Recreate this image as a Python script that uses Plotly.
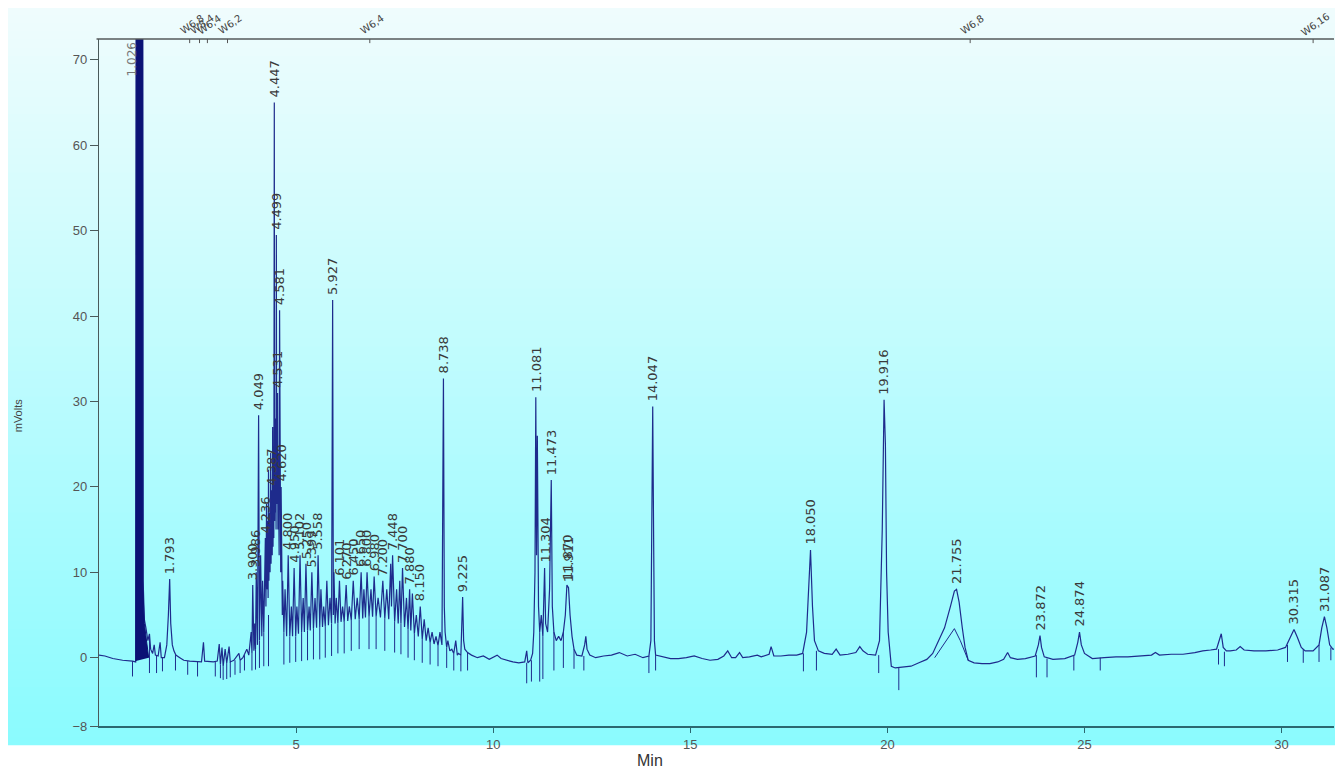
import plotly.graph_objects as go

# ---------------- data ----------------
# detector trace (minutes, mVolts), early part
trace_early_t = [0.00, 0.15, 0.35, 0.60, 0.85, 0.93, 0.96, 1.10, 1.12, 1.15, 1.19, 1.24, 1.28, 1.31, 1.36, 1.40, 1.43, 1.50,
                 1.55, 1.58, 1.66, 1.72, 1.76, 1.793, 1.82, 1.86, 1.90, 1.95, 2.05, 2.15, 2.30, 2.60, 2.65, 2.68, 2.90,
                 3.00, 3.05, 3.08, 3.12, 3.15, 3.20, 3.24, 3.30, 3.33, 3.42, 3.55, 3.58, 3.65, 3.75, 3.80]
trace_early_mv = [0.3, 0.2, -0.1, -0.3, -0.4, -0.5, 150, 150, 9, 4.5, 3.5, 2.0, 2.8, 1.0, 0.5, 1.5, 0.3, 0.2,
                  1.8, 0.0, 0.0, 1.5, 5, 9.2, 4, 1.5, 0.8, 0.3, 0, -0.3, -0.4, -0.5, 1.8, -0.4, -0.5,
                  -0.4, 1.6, -0.8, 1.2, -1.0, 1.0, -0.6, 1.3, -0.5, -0.3, 0.5, -0.3, 0.0, 1.0, 0.3]

# dense region 3.8 - 9.4 min
trace_dense_t = [3.86, 3.88, 3.90, 3.93, 3.95, 3.97, 3.99, 4.02, 4.049, 4.07, 4.10, 4.13, 4.15, 4.18,
                 4.22, 4.235, 4.25, 4.26, 4.28, 4.29, 4.30, 4.31, 4.33, 4.34, 4.355, 4.365, 4.387, 4.395,
                 4.405, 4.415, 4.42, 4.435, 4.447, 4.455, 4.465, 4.475, 4.485, 4.492, 4.499, 4.508, 4.515,
                 4.522, 4.53, 4.538, 4.545, 4.552, 4.56, 4.57, 4.581, 4.59, 4.60, 4.61, 4.62, 4.63, 4.64,
                 4.65, 4.66, 4.69, 4.72, 4.76, 4.80, 4.84, 4.88, 4.91, 4.95, 4.99,
                 5.02, 5.06, 5.10, 5.14, 5.18, 5.21, 5.25, 5.29, 5.33, 5.36, 5.40, 5.44, 5.48, 5.52, 5.558, 5.60,
                 5.63, 5.67, 5.70, 5.74, 5.78, 5.82, 5.86, 5.90, 5.927, 5.945, 5.96, 5.99, 6.02, 6.06, 6.10, 6.14,
                 6.18, 6.22, 6.27, 6.31, 6.35, 6.40, 6.45, 6.50, 6.55, 6.60, 6.65, 6.69, 6.72, 6.76, 6.80, 6.85,
                 6.90, 6.94, 6.98, 7.03, 7.08, 7.14, 7.20, 7.25, 7.30, 7.35, 7.40, 7.42, 7.448, 7.50, 7.55, 7.59,
                 7.63, 7.66, 7.70, 7.75, 7.80, 7.84, 7.88, 7.91, 7.95, 8.00, 8.05, 8.10, 8.15, 8.20, 8.25, 8.30,
                 8.35, 8.40, 8.45, 8.50, 8.55, 8.60, 8.65, 8.70, 8.738, 8.76, 8.78, 8.82, 8.85, 8.90, 8.95, 9.00,
                 9.05, 9.09, 9.12, 9.18, 9.225, 9.25, 9.28, 9.35]
trace_dense_mv = [3, 0.5, 8.5, 0.8, 4, 1.0, 10, 1.5, 28.4, 2, 12, 2.5, 9, 3,
                  14, 6, 18, 8, 16, 7, 22, 9, 17, 10, 24, 11, 19.6, 12,
                  27, 13, 21, 14, 65, 16, 28, 17, 22, 15, 49.5, 18, 27,
                  16, 31, 15, 24, 14, 20, 12, 40.7, 14, 22, 10, 20, 8, 14,
                  5, 9, 3, 8, 2.5, 12, 2.5, 6, 2.5, 10.5, 2.5,
                  6, 2.8, 12, 3, 7, 3, 11, 3.2, 6, 3.2, 10, 3.4, 7, 3.5, 12, 3.6,
                  8, 3.6, 6, 3.7, 9, 3.8, 7, 4, 41.9, 5, 10, 4, 7, 4, 9, 4.2,
                  6, 4.2, 8.5, 4.3, 6, 4.4, 9, 4.5, 7, 4.5, 10, 4.6, 8, 4.7, 10, 4.8,
                  8, 4.8, 9.5, 4.8, 7, 4.7, 9, 4.6, 8, 4.5, 11, 6, 12, 4.2, 8, 4.0,
                  9, 4, 10.5, 3.6, 7, 3.3, 8, 3.2, 7.5, 2.8, 5, 2.5, 6, 2.2, 4.5, 2.0,
                  3.5, 1.8, 3, 1.6, 2.5, 1.4, 3, 1.5, 32.7, 6, 3, 1.2, 2, 0.8, 1, 0.5,
                  2, 0.3, 0.5, 0.3, 7.1, 2, 1.0, 0.6]

# 9.4 - 31.35 min
trace_late_t = [9.45, 9.60, 9.75, 9.90, 10.0, 10.1, 10.2, 10.35, 10.5, 10.65, 10.8, 10.85, 10.88, 10.95,
                11.00, 11.03, 11.06, 11.081, 11.10, 11.12, 11.15, 11.18, 11.22, 11.26, 11.304, 11.33, 11.38,
                11.43, 11.473, 11.50, 11.54, 11.60, 11.66, 11.72, 11.78, 11.83, 11.87, 11.911, 11.95, 12.00,
                12.05, 12.12, 12.25, 12.32, 12.35, 12.38, 12.45, 12.6, 12.8, 13.0, 13.2, 13.4, 13.6, 13.8,
                13.95, 14.00, 14.02, 14.047, 14.07, 14.09, 14.12, 14.3, 14.5, 14.7, 14.9, 15.1, 15.3, 15.5,
                15.7, 15.85, 15.95, 16.05, 16.15, 16.25, 16.33, 16.5, 16.7, 16.8, 17.0, 17.05, 17.12, 17.3,
                17.5, 17.7, 17.85, 17.95, 18.00, 18.050, 18.10, 18.15, 18.25, 18.4, 18.6, 18.7, 18.8, 19.0,
                19.2, 19.3, 19.38, 19.5, 19.7, 19.80, 19.87, 19.916, 19.95, 19.98, 20.02, 20.06, 20.10, 20.2,
                20.4, 20.6, 20.8, 21.0, 21.15, 21.3, 21.45, 21.60, 21.70, 21.755, 21.82, 21.90, 21.97, 22.05,
                22.2, 22.4, 22.6, 22.8, 22.95, 23.05, 23.12, 23.3, 23.5, 23.75, 23.83, 23.872, 23.91, 23.98,
                24.2, 24.5, 24.75, 24.83, 24.874, 24.92, 25.0, 25.1, 25.2, 25.5, 25.8, 26.1, 26.4, 26.7,
                26.8, 26.9, 27.2, 27.5, 27.8, 28.0, 28.2, 28.35, 28.47, 28.52, 28.6, 28.7, 28.85, 28.95,
                29.05, 29.3, 29.6, 29.9, 30.1, 30.2, 30.315, 30.4, 30.5, 30.6, 30.8, 30.95, 31.02, 31.087,
                31.15, 31.22, 31.3, 31.35]
trace_late_mv = [0.3, 0.0, 0.2, -0.2, 0.1, 0.3, -0.1, -0.3, -0.5, -0.6, -0.5, 0.8, -0.6, -0.3,
                 0.5, 3, 10, 30.5, 12, 26, 6, 3, 5, 2.5, 10.5, 4, 3,
                 8, 20.8, 6, 3, 2, 2.5, 2, 3, 5, 8.5, 8.2, 5, 2.5,
                 1, 0.3, 0.2, 1.5, 2.5, 1.0, 0.3, 0.0, 0.2, 0.3, 0.6, 0.2, 0.4, 0.0,
                 0.2, 2, 15, 29.4, 14, 2, 0.3, 0.1, -0.1, -0.1, 0.0, 0.2, -0.1, -0.3,
                 -0.2, 0.2, 0.8, 0.0, 0.0, 0.6, 0.0, 0.1, 0.3, 0.1, 0.4, 1.3, 0.2, 0.2,
                 0.3, 0.3, 0.5, 3, 8, 12.6, 6, 2, 0.8, 0.5, 0.4, 1.0, 0.3, 0.4,
                 0.6, 1.3, 0.8, 0.4, 0.3, 2, 15, 30.2, 25, 10, 3, 0.5, -1.0, -1.2,
                 -1.1, -1.0, -0.6, -0.2, 0.5, 2.0, 3.5, 6, 7.8, 8.0, 6.5, 3.5, 1.2, -0.3,
                 -0.6, -0.7, -0.7, -0.5, -0.2, 0.6, 0.0, -0.2, -0.1, 0.2, 1.5, 2.6, 1.2, 0.1,
                 -0.2, -0.1, 0.3, 1.8, 3.0, 1.5, 0.5, 0.2, -0.1, 0.0, 0.1, 0.1, 0.2, 0.3,
                 0.6, 0.3, 0.4, 0.4, 0.6, 0.8, 0.9, 1.0, 2.8, 1.2, 0.8, 0.8, 0.9, 1.3,
                 0.9, 0.8, 0.8, 0.9, 1.2, 2.2, 3.3, 2.4, 1.2, 0.8, 0.8, 1.5, 3.5, 4.8,
                 3.5, 1.5, 1.0, 1.0]

# solvent peak body (drawn filled)
solvent_t = [0.935, 0.955, 1.095, 1.115, 1.15, 1.22, 1.26]
solvent_mv = [-0.4, 150, 150, 8, 4, 1.5, 0.0]

# integration baseline under the 21.755 peak
integ_t = [21.20, 21.50, 21.70, 21.85, 22.05]
integ_mv = [0.0, 2.0, 3.4, 2.0, -0.3]

# peak labels (retention time, label, apex height)
label_t = [1.793, 3.900, 3.986, 4.049, 4.236, 4.387, 4.447, 4.499, 4.531, 4.581, 4.620, 4.800,
           4.950, 5.102, 5.250, 5.399, 5.558, 5.927, 6.101, 6.270, 6.450, 6.650, 6.800, 6.980,
           7.200, 7.448, 7.700, 7.880, 8.150, 8.738, 9.225, 11.081, 11.304, 11.473, 11.870, 11.911,
           14.047, 18.050, 19.916, 21.755, 23.872, 24.874, 30.315, 31.087]
label_text = ["1.793", "3.900", "3.986", "4.049", "4.236", "4.387", "4.447", "4.499", "4.531", "4.581", "4.620", "4.800",
              "4.950", "5.102", "5.250", "5.399", "5.558", "5.927", "6.101", "6.270", "6.450", "6.650", "6.800", "6.980",
              "7.200", "7.448", "7.700", "7.880", "8.150", "8.738", "9.225", "11.081", "11.304", "11.473", "11.870", "11.911",
              "14.047", "18.050", "19.916", "21.755", "23.872", "24.874", "30.315", "31.087"]
label_h = [9.2, 8.5, 10, 28.4, 14, 19.6, 65, 49.5, 31, 40.7, 20, 12,
           10.5, 12, 11, 10, 12, 41.9, 9, 8.5, 9, 10, 10, 9.5,
           9, 12, 10.5, 8, 6, 32.7, 7.1, 30.5, 10.5, 20.8, 8.5, 8.2,
           29.4, 12.6, 30.2, 8.0, 2.6, 3.0, 3.3, 4.8]
solvent_label = "1.026"
solvent_label_t = 1.026

# integration drop marks (time, top, bottom)
drop_t = [0.85, 1.28, 1.46, 1.61, 1.94, 2.25, 2.50, 2.95, 3.08, 3.15, 3.24, 3.33, 3.45, 3.58, 3.69,
          3.88, 3.97, 4.07, 4.18, 4.30, 4.69, 4.84, 4.99, 5.14, 5.29, 5.44, 5.60, 5.74, 5.90, 6.06,
          6.22, 6.40, 6.60, 6.85, 7.03, 7.25, 7.50, 7.66, 7.84, 8.00, 8.20, 8.40, 8.60, 8.82, 9.00,
          9.18, 9.35, 10.85, 10.97, 11.18, 11.26, 11.54, 11.78, 12.05, 12.30, 13.95, 14.12, 17.87,
          18.20, 19.78, 20.29, 23.78, 24.05, 24.73, 25.40, 28.40, 28.55, 30.15, 30.55, 30.95, 31.25]
drop_top = [-0.4, 2.5, 0.3, 0.0, 0.3, -0.4, -0.5, -0.5, -0.8, -1.0, -0.6, -0.5, -0.3, -0.3, 0.3,
            0.5, 1.0, 2.0, 3.0, 5.0, 3.0, 2.5, 2.5, 3.0, 3.2, 3.4, 3.6, 3.7, 4.0, 4.0,
            4.2, 4.4, 4.5, 4.8, 4.8, 4.6, 4.2, 4.0, 3.3, 2.8, 2.2, 1.8, 1.4, 1.2, 0.5,
            0.3, 0.6, -0.6, -0.3, 3.0, 2.5, 3.0, 3.0, 1.0, 0.2, 0.2, 0.3, 0.5,
            0.8, 0.3, -1.2, 0.3, -0.1, 0.2, 0.0, 1.0, 0.7, 1.5, 1.0, 1.5, 1.2]
drop_bottom = [-2.2, -1.8, -1.8, -1.6, -1.5, -2.0, -2.2, -2.2, -2.4, -2.6, -2.5, -2.3, -2.0, -1.8, -1.5,
               -1.5, -1.4, -1.2, -1.0, -1.0, -0.8, -0.6, -0.5, -0.4, -0.3, -0.2, -0.2, 0.0, 0.2, 0.5,
               0.5, 0.8, 1.0, 1.0, 1.0, 0.8, 0.6, 0.4, 0.0, -0.3, -0.6, -0.8, -1.0, -1.2, -1.5,
               -1.6, -1.5, -3.0, -2.8, -2.8, -2.5, -1.5, -1.2, -1.3, -1.5, -1.8, -1.5, -1.6,
               -1.5, -1.8, -3.8, -2.3, -2.3, -1.5, -1.5, -0.8, -1.0, -0.5, -0.6, -0.5, -0.3]

# events along the top axis
event_t = [2.30, 2.55, 2.75, 3.26, 6.87, 22.10, 30.80]
event_text = ["W6,8", "W8,4", "W6,4", "W6,2", "W6,4", "W6,8", "W6,16"]

# axes
y_ticks = [-8, 0, 10, 20, 30, 40, 50, 60, 70]
x_ticks = [5, 10, 15, 20, 25, 30]
x_range = [0, 31.33]
y_range = [-8, 72.45]

# ---------------- figure ----------------
TRACE_COLOR = "#1e2b8c"
fig = go.Figure()

trace_t = trace_early_t + trace_dense_t + trace_late_t
trace_mv = trace_early_mv + trace_dense_mv + trace_late_mv

# drop marks as one segmented trace
dx, dy = [], []
for t, a, b in zip(drop_t, drop_top, drop_bottom):
    dx += [t, t, None]
    dy += [a, b, None]
fig.add_trace(go.Scatter(x=dx, y=dy, mode="lines", line=dict(color=TRACE_COLOR, width=1),
                         hoverinfo="skip", showlegend=False))

fig.add_trace(go.Scatter(x=integ_t, y=integ_mv, mode="lines", line=dict(color=TRACE_COLOR, width=1),
                         showlegend=False))
fig.add_trace(go.Scatter(x=trace_t, y=trace_mv, mode="lines", line=dict(color=TRACE_COLOR, width=1.2),
                         showlegend=False))
fig.add_trace(go.Scatter(x=solvent_t, y=solvent_mv, mode="lines", fill="toself", fillcolor="#0b1275",
                         line=dict(color="#0b1275", width=1), showlegend=False))

# background gradient bands (paper coordinates, covering the whole coloured panel)
y_lo, y_hi = -0.028, 1.06
x_lo, x_hi = -0.08, 1.0035
n = 90
top_rgb = (241, 252, 253)
bot_rgb = (138, 251, 254)
shapes = []
for i in range(n):
    f0 = i / n
    f1 = (i + 1) / n
    fm = (i + 0.5) / n
    c = tuple(round(bot_rgb[k] + (top_rgb[k] - bot_rgb[k]) * fm) for k in range(3))
    shapes.append(dict(type="rect", xref="paper", yref="paper", layer="below",
                       x0=x_lo, x1=x_hi, y0=y_lo + (y_hi - y_lo) * f0,
                       y1=y_lo + (y_hi - y_lo) * f1 + 0.002,
                       fillcolor="rgb(%d,%d,%d)" % c, line=dict(width=0)))
# top axis line
shapes.append(dict(type="line", xref="paper", yref="paper", x0=-0.002, x1=1.0, y0=1, y1=1,
                   line=dict(color="#555a5a", width=1.3)))
# event ticks
for t in event_t:
    shapes.append(dict(type="line", xref="x", yref="paper", x0=t, x1=t, y0=1, y1=0.994,
                       line=dict(color="#555", width=1)))

annotations = []
for t, s, h in zip(label_t, label_text, label_h):
    annotations.append(dict(x=t, y=h, text=s, textangle=-90, showarrow=False,
                            xanchor="center", yanchor="bottom", yshift=3,
                            font=dict(family="DejaVu Sans", size=13, color="#3a3a3a")))
annotations.append(dict(x=solvent_label_t, y=y_range[1], text=solvent_label, textangle=-90, showarrow=False,
                        xanchor="center", yanchor="top", xshift=-7, yshift=-1,
                        font=dict(family="DejaVu Sans", size=12, color="#777")))
for t, s in zip(event_t, event_text):
    annotations.append(dict(x=t, y=1, yref="paper", text=s, textangle=-35, showarrow=False,
                            xanchor="center", yanchor="middle", yshift=15, xshift=2,
                            font=dict(family="DejaVu Sans", size=10, color="#444")))
annotations.append(dict(x=0.446, y=-0.05, xref="paper", yref="paper", text="Min", showarrow=False,
                        xanchor="center", yanchor="middle",
                        font=dict(family="Liberation Sans", size=16, color="#333")))
annotations.append(dict(x=-0.066, y=0.453, xref="paper", yref="paper", text="mVolts", showarrow=False,
                        textangle=-90, xanchor="center", yanchor="middle",
                        font=dict(family="Liberation Sans", size=11, color="#444")))

# the page body adds an 8 px margin, so the figure is sized to fit the window
fig.update_layout(
    width=1335, height=767,
    margin=dict(l=91, r=9, t=31, b=49),
    paper_bgcolor="white",
    plot_bgcolor="rgba(0,0,0,0)",
    shapes=shapes,
    annotations=annotations,
    showlegend=False,
    xaxis=dict(range=x_range, tickvals=x_ticks, ticks="outside", ticklen=5, tickcolor="#2b6870",
               showline=True, linecolor="#2b6870", linewidth=2, showgrid=False, zeroline=False,
               tickfont=dict(family="Liberation Sans", size=13, color="#555")),
    yaxis=dict(range=y_range, tickvals=y_ticks, ticks="outside", ticklen=8, tickcolor="#4a5a5a",
               showline=True, linecolor="#4a5a5a", linewidth=1.3, showgrid=False, zeroline=False,
               tickfont=dict(family="Liberation Sans", size=13, color="#555")),
)

fig.write_html("out.html")
